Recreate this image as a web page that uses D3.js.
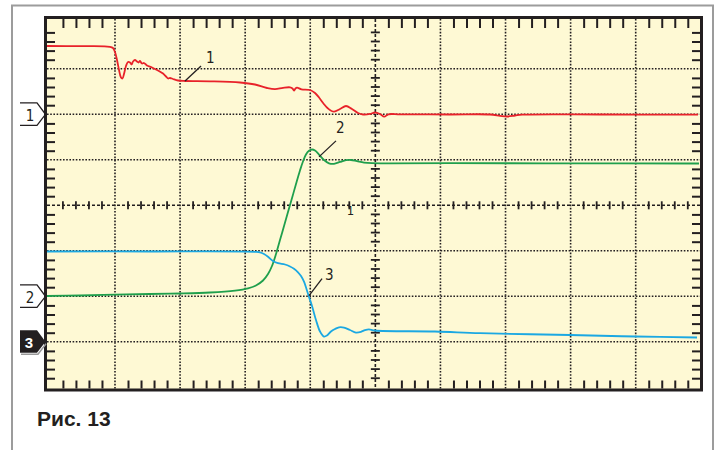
<!DOCTYPE html>
<html><head><meta charset="utf-8">
<script src="https://cdn.jsdelivr.net/npm/d3@7"></script>
<style>body{margin:0;background:#fff}svg{display:block}</style>
</head><body>
<svg id="c" width="714" height="450"></svg>
<script>
// ---- DATA (time in divisions, amplitude in divisions) ----
const ch1 = [[-0.045,3.501],[0.462,3.497],[0.923,3.484],[0.969,3.457],[1.000,3.369],[1.031,3.193],[1.062,2.974],[1.092,2.809],[1.115,2.787],[1.138,2.886],[1.169,3.062],[1.200,3.149],[1.231,3.138],[1.254,3.095],[1.277,3.160],[1.307,3.193],[1.338,3.160],[1.361,3.138],[1.384,3.171],[1.415,3.116],[1.446,3.127],[1.492,3.073],[1.569,3.029],[1.661,2.963],[1.738,2.897],[1.784,2.831],[1.815,2.787],[1.845,2.798],[1.891,2.776],[1.968,2.743],[2.076,2.732],[2.460,2.725],[2.921,2.699],[3.151,2.655],[3.336,2.578],[3.459,2.552],[3.582,2.582],[3.689,2.593],[3.727,2.567],[3.750,2.519],[3.773,2.567],[3.796,2.585],[3.865,2.549],[3.996,2.534],[4.073,2.468],[4.135,2.369],[4.203,2.237],[4.273,2.127],[4.365,2.057],[4.457,2.116],[4.549,2.182],[4.641,2.116],[4.733,2.029],[4.810,1.996],[4.918,2.007],[4.994,2.040],[5.071,2.007],[5.137,1.947],[5.199,2.000],[5.379,2.000],[6.147,1.996],[6.762,1.996],[6.916,1.967],[7.024,1.952],[7.147,1.974],[7.254,1.991],[8.452,1.996],[9.957,1.991]];
const ch2 = [[-0.045,-1.993],[0.462,-1.982],[1.000,-1.965],[1.538,-1.949],[1.999,-1.938],[2.460,-1.916],[2.844,-1.873],[3.044,-1.824],[3.166,-1.763],[3.274,-1.653],[3.351,-1.510],[3.412,-1.334],[3.474,-1.070],[3.535,-0.763],[3.597,-0.455],[3.658,-0.147],[3.720,0.160],[3.781,0.468],[3.842,0.765],[3.888,0.963],[3.934,1.116],[3.981,1.198],[4.027,1.226],[4.073,1.204],[4.134,1.116],[4.211,0.996],[4.288,0.923],[4.365,0.912],[4.457,0.952],[4.549,0.991],[4.626,0.996],[4.718,0.969],[4.826,0.938],[4.949,0.925],[5.225,0.923],[6.147,0.925],[7.837,0.923],[9.973,0.919]];
const ch3 = [[-0.045,-1.015],[1.538,-1.015],[3.151,-1.022],[3.228,-1.033],[3.289,-1.070],[3.351,-1.130],[3.428,-1.224],[3.504,-1.273],[3.612,-1.301],[3.689,-1.345],[3.750,-1.396],[3.812,-1.473],[3.858,-1.554],[3.904,-1.679],[3.942,-1.840],[3.981,-2.015],[4.027,-2.213],[4.088,-2.521],[4.150,-2.774],[4.211,-2.884],[4.257,-2.862],[4.318,-2.774],[4.380,-2.719],[4.441,-2.681],[4.518,-2.686],[4.610,-2.741],[4.702,-2.796],[4.779,-2.780],[4.841,-2.741],[4.902,-2.725],[4.994,-2.752],[5.916,-2.774],[6.608,-2.811],[7.990,-2.851],[9.004,-2.884],[9.942,-2.905]];
const seriesNames = ["1","2","3"];
const seriesColors = ["#e8222a","#1f9f4c","#1ba8e2"];
const refLevels = [2,-2,-3];            // channel reference markers on the left
const refLabels = ["1","2","3"];
const calloutLabels = ["1","2","3"];
const calloutPoints = [[2.076,2.732],[4.134,1.064],[3.981,-1.985]];
const caption = "Рис. 13";

// ---- SCALES ----
const x = d3.scaleLinear().domain([0,10]).range([49.9,700.8]);
const y = d3.scaleLinear().domain([-4,4]).range([387.3,23.3]);
const svg = d3.select("#c");
const ink = "#231f20";

// outer gray frame
svg.append("path").attr("d","M12,450 L12,5.5 L713,5.5 L713,450")
  .attr("fill","none").attr("stroke","#9c9c9c").attr("stroke-width",2);

// plot frame geometry
const fx0 = x(0)-4.4, fx1 = x(10)+0.7, fy0 = y(4)-5.8, fy1 = y(-4)+2.7;
svg.append("rect").attr("x",fx0).attr("y",fy0).attr("width",fx1-fx0).attr("height",fy1-fy0)
  .attr("fill","#fef9d4");

const inL = fx0+1.5, inR = fx1-1.5, inT = fy0+1.5, inB = fy1-1.5;

// dotted grid
const g = svg.append("g");
d3.range(1,10).filter(d=>d!==5).forEach(d=>{
  g.append("line").attr("x1",x(d)).attr("x2",x(d)).attr("y1",inT).attr("y2",inB)
   .attr("stroke",ink).attr("stroke-width",1.6).attr("stroke-dasharray","1.6,1.6");
});
d3.range(-3,4).filter(d=>d!==0).forEach(d=>{
  g.append("line").attr("y1",y(d)).attr("y2",y(d)).attr("x1",inL).attr("x2",inR)
   .attr("stroke",ink).attr("stroke-width",1.6).attr("stroke-dasharray","1.6,1.6");
});
// central axes (dashed)
g.append("line").attr("x1",x(5)).attr("x2",x(5)).attr("y1",inT).attr("y2",inB)
  .attr("stroke",ink).attr("stroke-width",1.6).attr("stroke-dasharray","3,2");
g.append("line").attr("y1",y(0)).attr("y2",y(0)).attr("x1",inL).attr("x2",inR)
  .attr("stroke",ink).attr("stroke-width",1.6).attr("stroke-dasharray","3,2");

const minorX = d3.range(1,50).filter(k=>k%5).map(k=>k/5);
const minorY = d3.range(-19,20).filter(k=>k%5).map(k=>k/5);
minorX.forEach(t=>{
  g.append("line").attr("x1",x(t)).attr("x2",x(t)).attr("y1",y(0)-4).attr("y2",y(0)+4)
   .attr("stroke",ink).attr("stroke-width",1.8);
});
minorY.forEach(v=>{
  g.append("line").attr("y1",y(v)).attr("y2",y(v)).attr("x1",x(5)-4.5).attr("x2",x(5)+4.5)
   .attr("stroke",ink).attr("stroke-width",1.8);
});
g.append("text").attr("x",x(5)-28.5).attr("y",y(0)+10).text("1")
  .attr("font-family","'Liberation Sans Narrow','DejaVu Sans Condensed',sans-serif")
  .attr("font-size",13).attr("fill",ink);

// border ticks via d3 axes
function styleAxis(sel){ sel.select(".domain").remove(); sel.selectAll(".tick line").attr("stroke",ink).attr("stroke-width",2); }
svg.append("g").attr("transform",`translate(0,${inT})`).call(d3.axisBottom(x).tickValues(minorX).tickSize(9).tickFormat("")).call(styleAxis);
svg.append("g").attr("transform",`translate(0,${inB})`).call(d3.axisTop(x).tickValues(minorX).tickSize(8).tickFormat("")).call(styleAxis);
svg.append("g").attr("transform",`translate(${inL},0)`).call(d3.axisRight(y).tickValues(minorY).tickSize(8).tickFormat("")).call(styleAxis);
svg.append("g").attr("transform",`translate(${inR},0)`).call(d3.axisLeft(y).tickValues(minorY).tickSize(8).tickFormat("")).call(styleAxis);

// traces
const line = d3.line().x(d=>x(d[0])).y(d=>y(d[1])).curve(d3.curveCatmullRom.alpha(0.5));
[ch1,ch2,ch3].forEach((s,i)=>{
  svg.append("path").attr("d",line(s)).attr("fill","none")
    .attr("stroke",seriesColors[i]).attr("stroke-width",1.8).attr("stroke-linejoin","round");
});

// frame
svg.append("rect").attr("x",fx0).attr("y",fy0).attr("width",fx1-fx0).attr("height",fy1-fy0)
  .attr("fill","none").attr("stroke",ink).attr("stroke-width",3);

// callouts
const narrow = "'Liberation Sans Narrow','DejaVu Sans Condensed','Arial Narrow',sans-serif";
const leader = [[16,-15],[17,-16],[13,-17]];
const textOff = [[21,-18],[17,-24],[16,-16]];
calloutLabels.forEach((lab,i)=>{
  const [t,v] = calloutPoints[i];
  const px = x(t), py = y(v);
  svg.append("line").attr("x1",px).attr("y1",py).attr("x2",px+leader[i][0]).attr("y2",py+leader[i][1])
    .attr("stroke",ink).attr("stroke-width",1.3);
  svg.append("text").attr("x",px+textOff[i][0]).attr("y",py+textOff[i][1]).text(lab)
    .attr("font-family",narrow).attr("font-size",15).attr("fill",ink);
});

// reference markers at left
refLevels.forEach((v,i)=>{
  const tipX = fx0, ty = y(v);
  const pts = [[20,ty-11.5],[37,ty-11.5],[tipX,ty],[37,ty+11],[20,ty+11]];
  if(i===2){
    svg.append("path").attr("d","M21,"+(ty+12.5)+" L38,"+(ty+12.5)+" L46,"+(ty+2))
      .attr("fill","none").attr("stroke","#9a9a9a").attr("stroke-width",1.5);
    svg.append("path").attr("d","M"+pts.map(p=>p.join(",")).join("L")+"Z").attr("fill",ink);
    svg.append("text").attr("x",29).attr("y",ty+6).attr("text-anchor","middle").text(refLabels[i])
      .attr("font-family","'Liberation Sans',Arial,sans-serif").attr("font-weight","bold")
      .attr("font-size",15).attr("fill","#fff");
  } else {
    svg.append("path").attr("d","M"+pts.map(p=>p.join(",")).join("L")).attr("fill","none")
      .attr("stroke",ink).attr("stroke-width",1.3);
    svg.append("text").attr("x",30).attr("y",ty+6.5).attr("text-anchor","middle").text(refLabels[i])
      .attr("font-family",narrow).attr("font-size",15).attr("fill",ink);
  }
});

// caption
svg.append("text").attr("x",37).attr("y",426).text(caption)
  .attr("font-family","'Liberation Sans',Arial,sans-serif").attr("font-weight","bold")
  .attr("font-size",21).attr("fill",ink);
</script>
</body></html>
